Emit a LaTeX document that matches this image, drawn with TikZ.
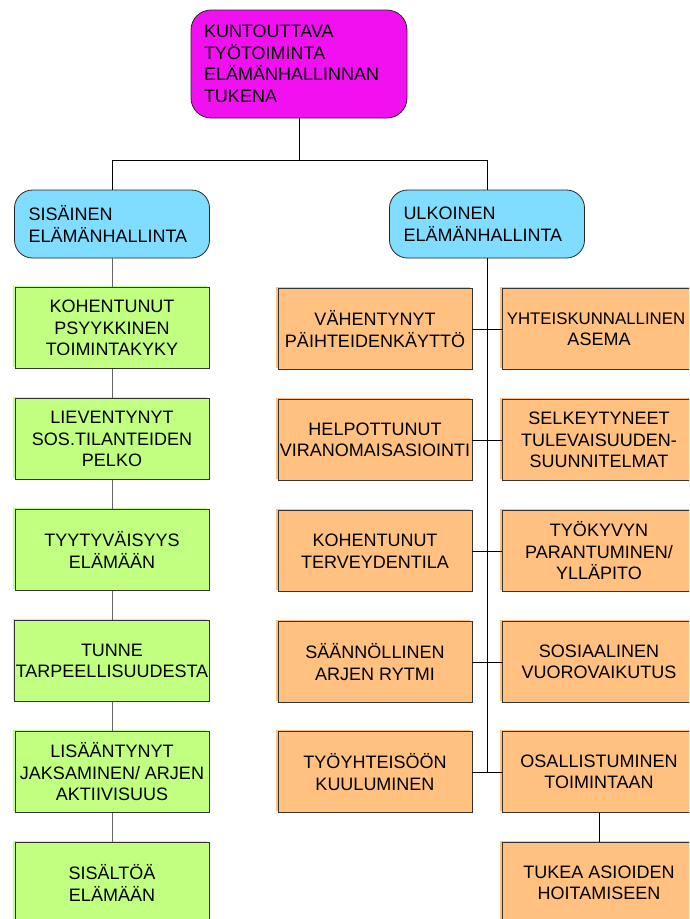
\documentclass[tikz,border=0pt]{standalone}
\usepackage{fontspec}
\setmainfont{Liberation Sans}
\usetikzlibrary{calc,shapes,positioning}
\definecolor{topfill}{HTML}{F010F0}
\definecolor{bluefill}{HTML}{80DDFF}
\definecolor{greenfill}{HTML}{C0FF80}
\definecolor{orangefill}{HTML}{FFC080}
\newcommand{\boxfont}{\fontsize{18pt}{21.5pt}\selectfont}
\tikzset{
  rbox/.style={draw=black!85, line width=0.8pt, rounded corners=20pt, align=left,
    inner sep=0pt, font=\boxfont},
  topbox/.style={rbox, fill=topfill, minimum width=216pt, minimum height=108pt, text width=190pt},
  bluebox/.style={rbox, fill=bluefill, rounded corners=18pt, minimum width=195pt,
    minimum height=68pt, text width=167pt},
  sqbox/.style={draw=black!80, line width=0.8pt, align=center, inner sep=1pt,
    minimum width=194pt, minimum height=81pt, font=\boxfont},
  greenbox/.style={sqbox, fill=greenfill,
    preaction={fill=greenfill, transform canvas={shift={(-2pt,2pt)}}}},
  orangebox/.style={sqbox, fill=orangefill,
    preaction={fill=orangefill, transform canvas={shift={(-2pt,2pt)}}}},
  link/.style={line width=0.8pt, draw=black},
  greylink/.style={line width=0.9pt, draw=black!60}
}

\begin{document}
\begin{tikzpicture}[x=1pt,y=-1pt]
    \useasboundingbox (0,0) rectangle (689,919);
    \clip (0,0) rectangle (689,919);
    \node[topbox] (top) at (299,64) {KUNTOUTTAVA\\TYÖTOIMINTA\\ELÄMÄNHALLINNAN\\TUKENA};
    \node[bluebox] (sis) at (112,224) {SISÄINEN\\ELÄMÄNHALLINTA};
    \node[bluebox] (ulk) at (487,224) {ULKOINEN\\ELÄMÄNHALLINTA};
    \coordinate (split) at ($(top.south)+(0,42)$);

    \node[greenbox] (g1) at (112,328) {KOHENTUNUT\\PSYYKKINEN\\TOIMINTAKYKY};
    \node[greenbox] (g2) at (112,439) {LIEVENTYNYT\\SOS.TILANTEIDEN\\PELKO};
    \node[greenbox] (g3) at (112,550) {TYYTYVÄISYYS\\ELÄMÄÄN};
    \node[greenbox] (g4) at (112,661) {TUNNE\\TARPEELLISUUDESTA};
    \node[greenbox] (g5) at (112,772) {LISÄÄNTYNYT\\JAKSAMINEN/ ARJEN\\AKTIIVISUUS};
    \node[greenbox] (g6) at (112,883) {SISÄLTÖÄ\\ELÄMÄÄN};

    \node[orangebox] (l1) at (375,329) {VÄHENTYNYT\\PÄIHTEIDENKÄYTTÖ};
    \node[orangebox] (l2) at (375,440) {HELPOTTUNUT\\VIRANOMAISASIOINTI};
    \node[orangebox] (l3) at (375,551) {KOHENTUNUT\\TERVEYDENTILA};
    \node[orangebox] (l4) at (375,662) {SÄÄNNÖLLINEN\\ARJEN RYTMI};
    \node[orangebox] (l5) at (375,772) {TYÖYHTEISÖÖN\\KUULUMINEN};
    \node[orangebox] (r1) at (599,329) {{\fontsize{16.8pt}{21.5pt}\selectfont YHTEISKUNNALLINEN}\hspace*{6pt}\\ASEMA};
    \node[orangebox] (r2) at (599,440) {SELKEYTYNEET\\TULEVAISUUDEN-\\SUUNNITELMAT};
    \node[orangebox] (r3) at (599,551) {TYÖKYVYN\\PARANTUMINEN/\\YLLÄPITO};
    \node[orangebox] (r4) at (599,662) {SOSIAALINEN\\VUOROVAIKUTUS};
    \node[orangebox] (r5) at (599,772) {OSALLISTUMINEN\\TOIMINTAAN};
    \node[orangebox] (r6) at (599,883) {TUKEA ASIOIDEN\\HOITAMISEEN};

    \draw[link] (top.south) -- (split) -| (sis.north);
    \draw[link] (split) -| (ulk.north);
    \draw[greylink] (sis) -- (g1);
    \foreach \a/\b in {g1/g2,g2/g3,g3/g4,g4/g5,g5/g6}
      \draw[greylink] (\a) -- (\b);
    \draw[link] (ulk.south) -- (ulk.south |- l5.east);
    \foreach \i in {1,...,5}
      \draw[link] (l\i.east) -- (r\i.west);
    \draw[link] (r5) -- (r6);
\end{tikzpicture}
\end{document}
